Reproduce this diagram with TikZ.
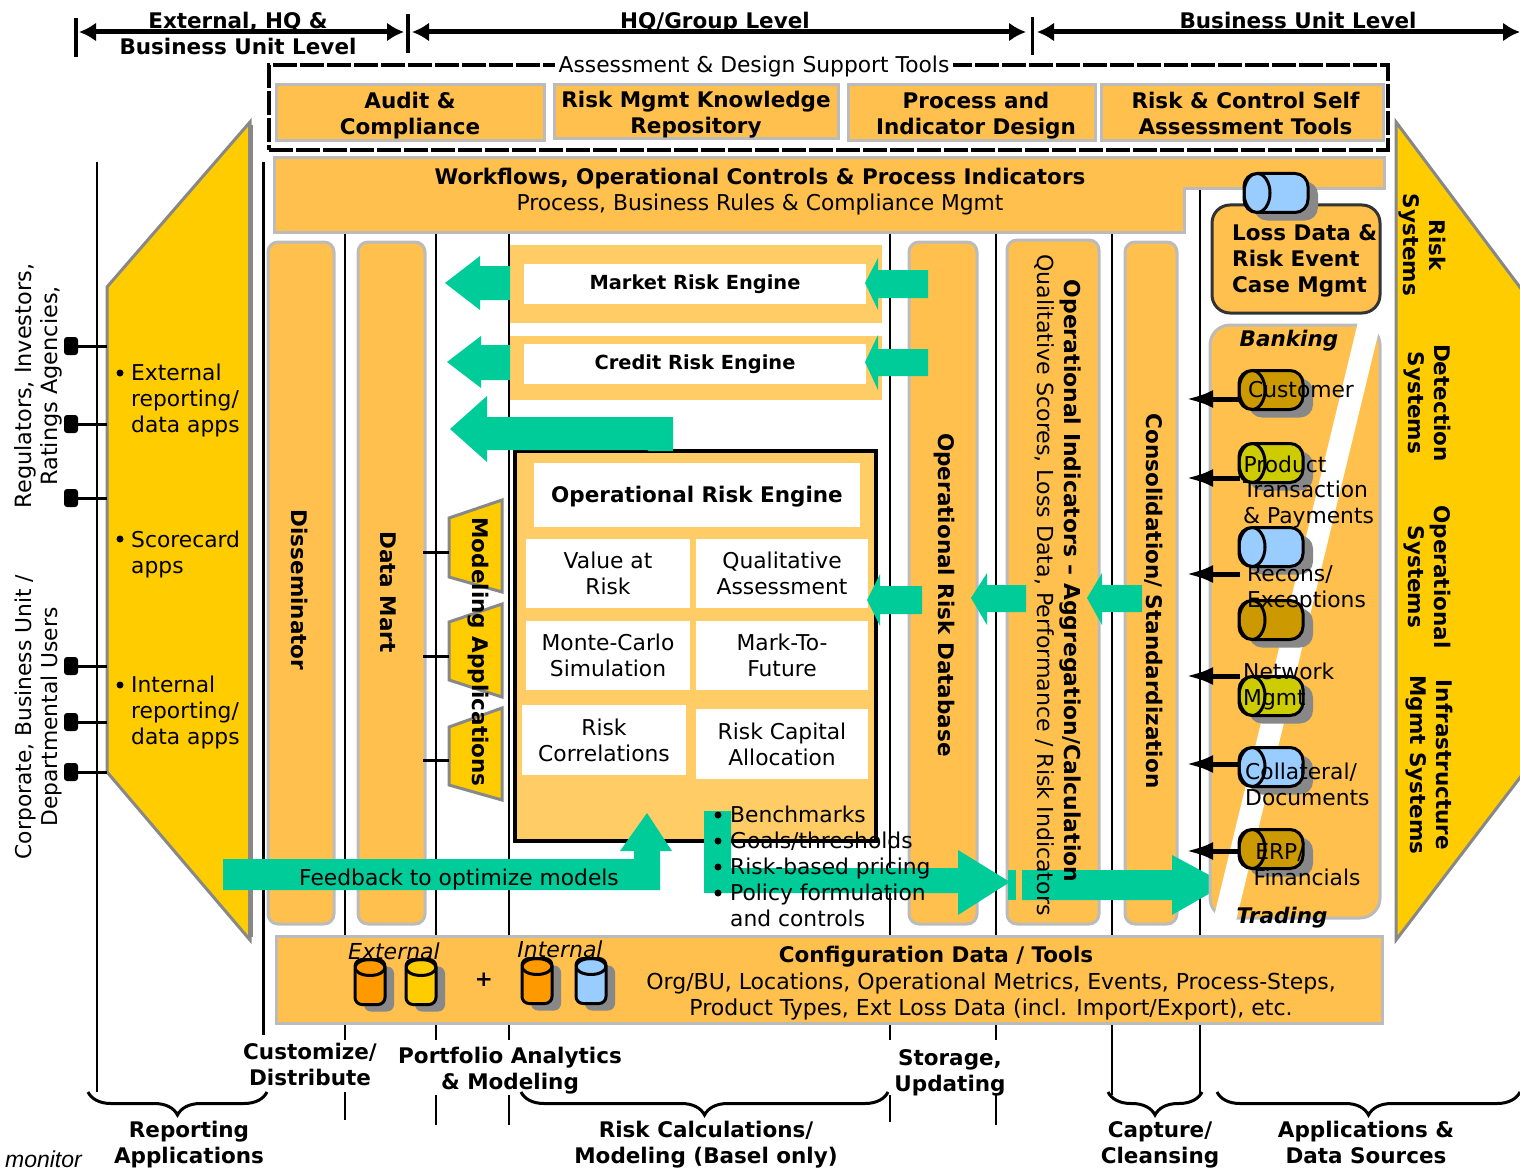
\documentclass[tikz,border=0pt]{standalone}
\usepackage{fontspec}
\setmainfont{DejaVu Sans}
\newfontfamily\noteface{Liberation Sans}
\usetikzlibrary{arrows.meta,shadows,decorations.pathreplacing}

\definecolor{paneorange}{HTML}{FFC04D}
\definecolor{paneglow}{HTML}{FFCC66}
\definecolor{sunyellow}{HTML}{FFCC00}
\definecolor{flowgreen}{HTML}{00CC99}
\definecolor{rimgray}{HTML}{BBBBBB}
\definecolor{wedgegray}{HTML}{888888}
\definecolor{skyblue}{HTML}{99CCFF}
\definecolor{ochre}{HTML}{CC9900}
\definecolor{olivey}{HTML}{CCCC00}
\definecolor{amber}{HTML}{FF9900}

\tikzset{
  txt/.style={font=\fontsize{21.8}{26}\selectfont, align=center, inner sep=0pt, text=black},
  bld/.style={font=\fontsize{21.5}{26}\selectfont\bfseries, align=center, inner sep=0pt, text=black},
  band/.style={shape=rectangle, draw=rimgray, line width=3pt, fill=paneorange, inner sep=0pt},
  pillar/.style={shape=rectangle, rounded corners=10pt, draw=rimgray, line width=3pt, fill=paneorange, inner sep=0pt},
  cell/.style={shape=rectangle, fill=white, inner sep=0pt},
  glow/.style={shape=rectangle, fill=paneglow, inner sep=0pt},
  wedge/.style={draw=wedgegray, line width=3pt, fill=sunyellow},
  flow/.style={fill=flowgreen},
  rule/.style={line width=2.4pt, black},
  thinrule/.style={line width=1.4pt, black},
  wire/.style={line width=3pt, black},
  feed/.style={line width=5pt, black, -{Latex[length=27pt,width=18pt]}},
  level/.style={line width=5pt, black, {Latex[length=17pt,width=19pt]}-{Latex[length=17pt,width=19pt]}},
  port/.style={shape=rectangle, rounded corners=3pt, fill=black, minimum width=14pt, minimum height=18pt, inner sep=0pt},
  bullet/.style={shape=circle, fill=black, minimum size=7pt, inner sep=0pt},
  drum/.style={shape=rectangle, rounded corners=13pt, draw=black, line width=3pt, fill=#1,
    minimum width=64pt, minimum height=39pt, inner sep=0pt,
    drop shadow={shadow xshift=10pt, shadow yshift=-8pt, fill=wedgegray, opacity=1},
    path picture={\draw[line width=3pt] ([xshift=13pt]path picture bounding box.west) ellipse [x radius=13pt, y radius=19.5pt];}},
  tank/.style={shape=rectangle, rounded corners=7pt, draw=black, line width=3pt, fill=#1,
    minimum width=30pt, minimum height=45pt, inner sep=0pt,
    drop shadow={shadow xshift=9pt, shadow yshift=-7pt, fill=wedgegray, opacity=1},
    path picture={\draw[line width=3pt] ([yshift=-8pt]path picture bounding box.north) ellipse [x radius=15pt, y radius=8pt];}},
  brace/.style={decorate, decoration={brace, mirror, amplitude=23pt}, line width=3pt, black},
}

\begin{document}
\begin{tikzpicture}[x=1pt, y=-1pt]
\useasboundingbox (0,0) rectangle (1520,1169);
        % level arrows on top
\draw[line width=4pt] (76,18) -- (76,57);
\draw[line width=4pt] (408,14) -- (408,53);
\draw[line width=3pt] (1032,17) -- (1032,55);
\coordinate (e1) at (79,32);
\coordinate (e2) at (404,32);
\coordinate (h1) at (412,32);
\coordinate (h2) at (1026,32);
\coordinate (b1) at (1037,32);
\coordinate (b2) at (1520,32);
\draw[level] (e1) -- (e2);
\draw[level] (h1) -- (h2);
\draw[level] (b1) -- (b2);

\node[bld] at (238,22)
(ehq) {External, HQ \&};
\node[bld] at (238,46)
(ebu) {Business Unit Level};
\node[bld] at (715,23)
(hqg) {HQ/Group Level};
\node[bld] at (1298,20)
(bul) {Business Unit Level};

        % separators
\draw[thinrule, line width=2pt] (97,162) -- (97,1092);
\draw[line width=3pt] (263,162) -- (263,1035);
\draw[rule] (345,234) -- (345,1040);
\draw[rule] (345,1092) -- (345,1120);
\draw[thinrule] (436,234) -- (436,1040);
\draw[thinrule] (436,1095) -- (436,1125);
\draw[rule] (509,234) -- (509,1040);
\draw[rule] (509,1095) -- (509,1125);
\draw[thinrule] (890,234) -- (890,1040);
\draw[thinrule] (890,1095) -- (890,1122);
\draw[rule] (996,234) -- (996,1040);
\draw[rule] (996,1095) -- (996,1125);
\draw[rule] (1112,234) -- (1112,1095);
\draw[thinrule] (1200,190) -- (1200,1095);

        % support tools
\node[shape=rectangle, draw=black, line width=3.5pt, dash pattern=on 24pt off 3pt, minimum width=1119pt, minimum height=85pt, inner sep=0pt] at (828.5,107.5)
(tools) {};
\node[txt, fill=white, inner xsep=4pt, inner ysep=2pt] at (754,66)
(toolstag) {Assessment \& Design Support Tools};
\node[band, bld, text depth=-4pt, minimum width=268pt, minimum height=56pt] at (410,113)
(audit) {Audit \&\\Compliance};
\node[band, bld, text depth=-4pt, minimum width=284pt, minimum height=54pt] at (696,112)
(repo) {Risk Mgmt Knowledge\\Repository};
\node[band, bld, text depth=-4pt, minimum width=247pt, minimum height=56pt] at (971.5,113)
(design) {\hspace*{9pt}Process and\\\hspace*{9pt}Indicator Design};
\node[band, bld, text depth=-4pt, minimum width=282pt, minimum height=56pt] at (1242,113)
(rcsa) {\hspace*{7pt}Risk \& Control Self\\\hspace*{7pt}Assessment Tools};

        % workflows
\draw[line width=3pt, draw=rimgray, fill=paneorange] (274,158) -- (1384,158) -- (1384,189) -- (1184,189) -- (1184,232) -- (274,232) -- cycle;
\node[bld] at (760,179)
(wftitle) {Workflows, Operational Controls \& Process Indicators};
\node[txt] at (760,204)
(wfsub) {Process, Business Rules \& Compliance Mgmt};

        % side wedges
\draw[wedge] (107,287) -- (250,122) -- (250,940) -- (107,772) -- cycle;
\draw[wedge] (1396,122) -- (1522,290) -- (1522,775) -- (1396,940) -- cycle;
\draw[line width=5pt, draw=wedgegray] (250,125) -- (250,937);

\node[txt, anchor=west, align=left] at (131,400)
(repa) {External\\reporting/\\data apps};
\node[txt, anchor=west, align=left] at (131,554)
(repb) {Scorecard\\apps};
\node[txt, anchor=west, align=left] at (131,712)
(repc) {Internal\\reporting/\\data apps};
\node[bullet] at (120,373)
(dota) {};
\node[bullet] at (120,539)
(dotb) {};
\node[bullet] at (120,685)
(dotc) {};

\node[port] at (71,346)
(p1) {};
\node[port] at (71,424)
(p2) {};
\node[port] at (71,498)
(p3) {};
\node[port] at (71,666)
(p4) {};
\node[port] at (71,722)
(p5) {};
\node[port] at (71,772)
(p6) {};
\coordinate (q1) at (107,346);
\coordinate (q2) at (107,424);
\coordinate (q3) at (107,498);
\coordinate (q4) at (107,666);
\coordinate (q5) at (107,722);
\coordinate (q6) at (107,772);
\draw[wire]
  (p1) edge (q1)
  (p2) edge (q2)
  (p3) edge (q3)
  (p4) edge (q4)
  (p5) edge (q5)
  (p6) edge (q6)
;
\node[txt, rotate=90, font=\fontsize{22.4}{26}\selectfont] at (38,386)
(regs) {Regulators, Investors,\\Ratings Agencies,};
\node[txt, rotate=90] at (38,717)
(corp) {Corporate, Business Unit /\\Departmental Users};

\node[bld, rotate=-90] at (1422,245)
(riskw) {Risk\\Systems};
\node[bld, rotate=-90] at (1427,403)
(detw) {Detection\\Systems};
\node[bld, rotate=-90] at (1427,577)
(opw) {Operational\\Systems};
\node[bld, rotate=-90] at (1429,765)
(infw) {Infrastructure\\Mgmt Systems};

        % pillars
\node[pillar, minimum width=66pt, minimum height=682pt] at (301,583)
(dissem) {};
\node[pillar, minimum width=67pt, minimum height=682pt] at (391.5,583)
(mart) {};
\node[pillar, minimum width=68pt, minimum height=682pt] at (943,583)
(ordb) {};
\node[pillar, minimum width=92pt, minimum height=684pt] at (1053,582)
(opind) {};
\node[pillar, minimum width=52pt, minimum height=682pt] at (1151,583)
(consol) {};

        % engines
\node[glow, minimum width=372pt, minimum height=78pt] at (696,284)
(mkpanel) {};
\node[cell, bld, font=\fontsize{19.4}{26}\selectfont\bfseries, minimum width=342pt, minimum height=40pt] at (695,284)
(market) {Market Risk Engine};
\node[glow, minimum width=372pt, minimum height=64pt] at (696,368)
(crpanel) {};
\node[cell, bld, font=\fontsize{19.4}{26}\selectfont\bfseries, minimum width=342pt, minimum height=40pt] at (695,364)
(credit) {Credit Risk Engine};
\node[shape=rectangle, draw=black, line width=4pt, fill=paneglow, minimum width=361pt, minimum height=390pt, inner sep=0pt] at (695.5,646)
(orengine) {};
\node[cell, bld, text depth=1pt, minimum width=326pt, minimum height=64pt] at (697,495)
(ortitle) {Operational Risk Engine};
\node[cell, txt, minimum width=164pt, minimum height=69pt] at (608,573.5)
(var) {Value at\\Risk};
\node[cell, txt, minimum width=172pt, minimum height=69pt] at (782,573.5)
(qual) {Qualitative\\Assessment};
\node[cell, txt, minimum width=164pt, minimum height=69pt] at (608,655.5)
(monte) {Monte-Carlo\\Simulation};
\node[cell, txt, minimum width=172pt, minimum height=69pt] at (782,655.5)
(mtf) {Mark-To-\\Future};
\node[cell, txt, minimum width=164pt, minimum height=70pt] at (604,740)
(corr) {Risk\\Correlations};
\node[cell, txt, minimum width=172pt, minimum height=70pt] at (782,744)
(alloc) {Risk Capital\\Allocation};

        % modeling applications
\draw[line width=3pt, draw=wedgegray, fill=sunyellow] (449,518) -- (502,500) -- (502,592) -- (449,577) -- cycle;
\draw[line width=3pt, draw=wedgegray, fill=sunyellow] (449,622) -- (502,604) -- (502,697) -- (449,680) -- cycle;
\draw[line width=3pt, draw=wedgegray, fill=sunyellow] (449,727) -- (502,708) -- (502,800) -- (449,785) -- cycle;
\coordinate (ma1) at (423,552);
\coordinate (ma2) at (423,656);
\coordinate (ma3) at (423,760);
\coordinate (mb1) at (449,552);
\coordinate (mb2) at (449,656);
\coordinate (mb3) at (449,760);
\draw[wire]
  (ma1) edge (mb1)
  (ma2) edge (mb2)
  (ma3) edge (mb3)
;

        % green flows
\fill[flow] (445,283) -- (480,256) -- (480,266) -- (510,266) -- (510,300) -- (480,300) -- (480,310) -- cycle;
\fill[flow] (447,362) -- (481,336) -- (481,345) -- (510,345) -- (510,380) -- (481,380) -- (481,388) -- cycle;
\fill[flow] (450,429) -- (487,396) -- (487,417) -- (673,417) -- (673,451) -- (648,451) -- (648,450) -- (487,450) -- (487,462) -- cycle;
\fill[flow] (865,283) -- (878,258) -- (878,270) -- (928,270) -- (928,298) -- (878,298) -- (878,310) -- cycle;
\fill[flow] (865,362) -- (878,335) -- (878,349) -- (928,349) -- (928,376) -- (878,376) -- (878,390) -- cycle;
\fill[flow] (867,600) -- (880,574) -- (880,586) -- (922,586) -- (922,614) -- (880,614) -- (880,626) -- cycle;
\fill[flow] (971,598) -- (987,573) -- (987,585) -- (1026,585) -- (1026,612) -- (987,612) -- (987,625) -- cycle;
\fill[flow] (1087,598) -- (1102,573) -- (1102,585) -- (1142,585) -- (1142,612) -- (1102,612) -- (1102,625) -- cycle;
\fill[flow] (223,859) -- (634,859) -- (634,851) -- (620,851) -- (647,813) -- (672,851) -- (660,851) -- (660,890) -- (223,890) -- cycle;
\fill[flow] (704,811) -- (731,811) -- (731,868) -- (958,868) -- (958,850) -- (1010,882) -- (958,915) -- (958,893) -- (704,893) -- cycle;
\fill[flow] (1008,870) rectangle (1016,900);
\fill[flow] (1022,870) -- (1172,870) -- (1172,855) -- (1226,884) -- (1172,915) -- (1172,900) -- (1022,900) -- cycle;

\node[txt] at (459,879)
(fbtag) {Feedback to optimize models};
\node[txt, anchor=west, align=left] at (730,866)
(kpis) {Benchmarks\\Goals/thresholds\\Risk-based pricing\\Policy formulation\\and controls};
\node[bullet] at (718,815)
(kb1) {};
\node[bullet] at (718,841)
(kb2) {};
\node[bullet] at (718,867)
(kb3) {};
\node[bullet] at (718,893)
(kb4) {};

\node[bld, rotate=-90] at (300,590)
(dissemtag) {Disseminator};
\node[bld, rotate=-90] at (388,592)
(marttag) {Data Mart};
\node[bld, rotate=-90] at (478,652)
(modtag) {Modeling Applications};
\node[bld, rotate=-90] at (944,595)
(ordbtag) {Operational Risk Database};
\node[bld, rotate=-90, font=\fontsize{21.9}{26}\selectfont\bfseries] at (1070,581)
(opindtag) {Operational Indicators -- Aggregation/Calculation};
\node[txt, rotate=-90, font=\fontsize{22.1}{26}\selectfont] at (1044,585)
(opindsub) {Qualitative Scores, Loss Data, Performance / Risk Indicators};
\node[bld, rotate=-90] at (1154,601)
(consoltag) {Consolidation/ Standardization};

        % applications and data sources
\node[shape=rectangle, rounded corners=20pt, draw=rimgray, line width=3pt, fill=paneorange, minimum width=170pt, minimum height=593pt, inner sep=0pt] at (1295,621.5)
(apps) {};
\fill[white] (1358,322) -- (1381,322) -- (1235,925) -- (1212,925) -- cycle;
\node[bld, font=\fontsize{21.5}{26}\selectfont\bfseries\itshape] at (1289,341)
(banking) {Banking};
\node[bld, font=\fontsize{21.5}{26}\selectfont\bfseries\itshape] at (1282,918)
(trading) {Trading};

\node[shape=rectangle, rounded corners=18pt, draw=black!80, line width=3pt, fill=paneorange, minimum width=168pt, minimum height=108pt, inner sep=0pt] at (1296,259)
(lossbox) {};
\node[bld, anchor=west, align=left] at (1232,261)
(losstag) {Loss Data \&\\Risk Event\\Case Mgmt};
\node[drum=skyblue] at (1276,193)
(lossdb) {};

\coordinate (t1) at (1186,399);
\coordinate (t2) at (1186,478);
\coordinate (t3) at (1186,574);
\coordinate (t4) at (1186,676);
\coordinate (t5) at (1186,764);
\coordinate (t6) at (1186,851);
\coordinate (s1) at (1240,399);
\coordinate (s2) at (1240,478);
\coordinate (s3) at (1240,574);
\coordinate (s4) at (1240,676);
\coordinate (s5) at (1240,764);
\coordinate (s6) at (1240,851);
\draw[feed] (s1) -- (t1);
\draw[feed] (s2) -- (t2);
\draw[feed] (s3) -- (t3);
\draw[feed] (s4) -- (t4);
\draw[feed] (s5) -- (t5);
\draw[feed] (s6) -- (t6);

\node[drum=ochre] at (1271,390)
(custdb) {};
\node[drum=olivey] at (1271,463)
(proddb) {};
\node[drum=skyblue] at (1271,547)
(recdb) {};
\node[drum=ochre] at (1271,620)
(excdb) {};
\node[drum=olivey] at (1271,696)
(netdb) {};
\node[drum=skyblue] at (1271,767)
(coldb) {};
\node[drum=ochre] at (1271,849)
(erpdb) {};

\node[txt] at (1301,390)
(custtag) {Customer};
\node[txt] at (1285,464)
(prodtag) {Product};
\node[txt, anchor=west, align=left] at (1243,504)
(transtag) {Transaction\\\& Payments};
\node[txt, anchor=west, align=left] at (1247,589)
(rectag) {Recons/\\Exceptions};
\node[txt, anchor=west, align=left] at (1243,686)
(nettag) {Network\\Mgmt};
\node[txt, anchor=west, align=left] at (1245,784)
(coltag) {Collateral/\\Documents};
\node[txt] at (1280,853)
(erptag) {ERP/};
\node[txt] at (1307,877)
(fintag) {Financials};

        % configuration band
\node[band, minimum width=1106pt, minimum height=87pt] at (829,979.5)
(config) {};
\node[txt, font=\fontsize{22}{26}\selectfont\itshape] at (394,951)
(exttag) {External};
\node[txt, font=\fontsize{22}{26}\selectfont\itshape] at (560,949)
(inttag) {Internal};
\node[tank=amber] at (370,982)
(ext1) {};
\node[tank=sunyellow] at (421,982)
(ext2) {};
\node[tank=amber] at (537,981)
(int1) {};
\node[tank=skyblue] at (591,981)
(int2) {};
\node[bld] at (484,980)
(plus) {+};
\node[bld] at (936,957)
(cfgtag) {Configuration Data / Tools};
\node[txt, font=\fontsize{22}{26}\selectfont] at (991,996)
(cfgsub) {Org/BU, Locations, Operational Metrics, Events, Process-Steps,\\Product Types, Ext Loss Data (incl. Import/Export), etc.};

        % bottom labels
\node[bld] at (310,1064)
(custm) {Customize/\\Distribute};
\node[bld] at (510,1071)
(portf) {Portfolio Analytics\\\& Modeling};
\node[bld] at (950,1073)
(stor) {Storage,\\Updating};
\coordinate (ra) at (88,1092);
\coordinate (rb) at (267,1092);
\coordinate (ca) at (521,1092);
\coordinate (cb) at (888,1092);
\coordinate (ga) at (1108,1092);
\coordinate (gb) at (1202,1092);
\coordinate (da) at (1217,1092);
\coordinate (db) at (1520,1092);
\draw[brace] (ra) -- (rb);
\draw[brace] (ca) -- (cb);
\draw[brace] (ga) -- (gb);
\draw[brace] (da) -- (db);
\node[bld] at (189,1145)
(rpt) {Reporting\\Applications};
\node[bld] at (706,1145)
(calc) {Risk Calculations/\\Modeling (Basel only)};
\node[bld] at (1160,1145)
(capt) {Capture/\\Cleansing};
\node[bld] at (1366,1142)
(srcs) {Applications \&\\Data Sources};
\node[anchor=east, inner sep=0pt, font=\noteface\itshape\fontsize{23}{26}\selectfont] at (82,1159)
(mon) {monitor};
\end{tikzpicture}
\end{document}
